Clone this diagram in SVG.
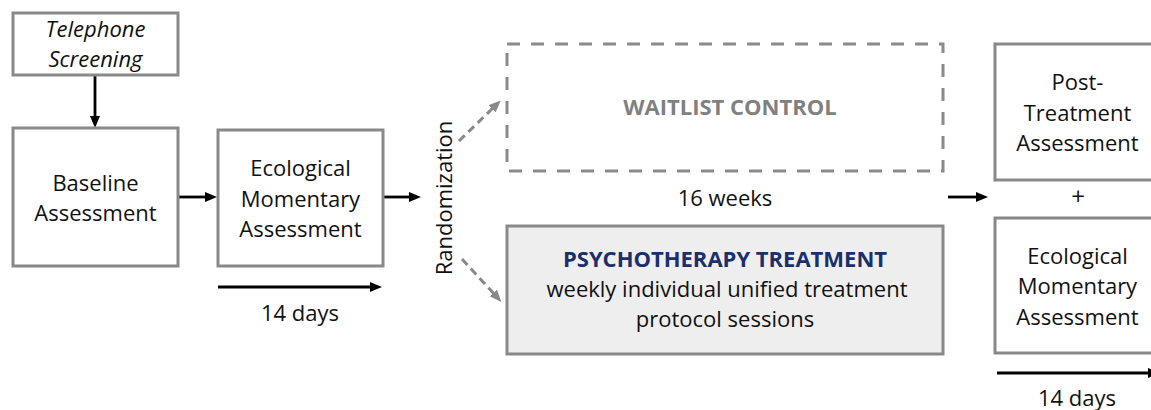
<svg xmlns="http://www.w3.org/2000/svg" width="1151" height="410" viewBox="0 0 1151 410">
<style>
.box{fill:#ffffff;stroke:#898989;stroke-width:3}
.dash{fill:#ffffff;stroke:#8a8a8a;stroke-width:3;stroke-dasharray:13 11}
.t{font-family:"Open Sans","Liberation Sans",sans-serif;font-size:22px;fill:#111111;text-anchor:middle}
.it{font-style:italic}
.b{font-weight:bold}
.arr{stroke:#000000;stroke-width:2.8;fill:none;marker-end:url(#ah)}
.garr{stroke:#888888;stroke-width:3;fill:none;stroke-dasharray:8 5;marker-end:url(#gh)}
</style>
<defs>
<marker id="ah" markerWidth="12" markerHeight="10" refX="4" refY="5" orient="auto" markerUnits="userSpaceOnUse">
<path d="M0,0 L12,5 L0,10 z" fill="#000000"/>
</marker>
<marker id="gh" markerWidth="12" markerHeight="10" refX="4" refY="5" orient="auto" markerUnits="userSpaceOnUse">
<path d="M0,0 L12,5 L0,10 z" fill="#888888"/>
</marker>
</defs>
<rect width="1151" height="410" fill="#ffffff"/>

<g id="connectors">
<line class="arr" x1="95" y1="75" x2="95" y2="120"/>
<line class="arr" x1="178" y1="197" x2="209" y2="197"/>
<line class="arr" x1="383" y1="197" x2="413" y2="197"/>
<line class="arr" x1="218" y1="287" x2="374" y2="287"/>
<line class="garr" x1="459" y1="141" x2="495" y2="106"/>
<line class="garr" x1="462" y1="259" x2="496" y2="296"/>
<line class="arr" x1="948" y1="197" x2="980" y2="197"/>
<line class="arr" x1="997" y1="373" x2="1152" y2="373"/>
</g>

<g id="telephone">
<rect class="box" x="13" y="13" width="165" height="62"/>
<text class="t it" x="95.5" y="37">Telephone</text>
<text class="t it" x="95.5" y="67">Screening</text>
</g>

<g id="baseline">
<rect class="box" x="13" y="128" width="165" height="138"/>
<text class="t" x="95.5" y="191">Baseline</text>
<text class="t" x="95.5" y="221">Assessment</text>
</g>

<g id="ema1">
<rect class="box" x="218" y="130" width="165" height="136"/>
<text class="t" x="300.5" y="176">Ecological</text>
<text class="t" x="300.5" y="207">Momentary</text>
<text class="t" x="300.5" y="237">Assessment</text>
</g>

<g id="days1">
<text class="t" x="300" y="321">14 days</text>
</g>

<g id="randomization">
<text class="t" x="452" y="198" transform="rotate(-90 452 198)">Randomization</text>
</g>

<g id="waitlist">
<rect class="dash" x="507" y="44" width="436" height="127"/>
<text class="t b" x="730" y="115" style="fill:#808080">WAITLIST CONTROL</text>
</g>

<g id="weeks">
<text class="t" x="725" y="206">16 weeks</text>
</g>

<g id="treatment">
<rect class="box" x="507" y="226" width="436" height="128" style="fill:#eeeeee"/>
<text class="t b" x="725" y="267" style="fill:#1b2f6b">PSYCHOTHERAPY TREATMENT</text>
<text class="t" x="727" y="297">weekly individual unified treatment</text>
<text class="t" x="725" y="327">protocol sessions</text>
</g>

<g id="post">
<rect class="box" x="995" y="44" width="165" height="136"/>
<text class="t" x="1077.5" y="90">Post-</text>
<text class="t" x="1077.5" y="121">Treatment</text>
<text class="t" x="1077.5" y="151">Assessment</text>
</g>

<g id="plus">
<text class="t" x="1078" y="205" style="font-size:24px">+</text>
</g>

<g id="ema2">
<rect class="box" x="995" y="218" width="165" height="135"/>
<text class="t" x="1077.5" y="264">Ecological</text>
<text class="t" x="1077.5" y="294">Momentary</text>
<text class="t" x="1077.5" y="325">Assessment</text>
</g>

<g id="days2">
<text class="t" x="1077" y="406">14 days</text>
</g>
</svg>
